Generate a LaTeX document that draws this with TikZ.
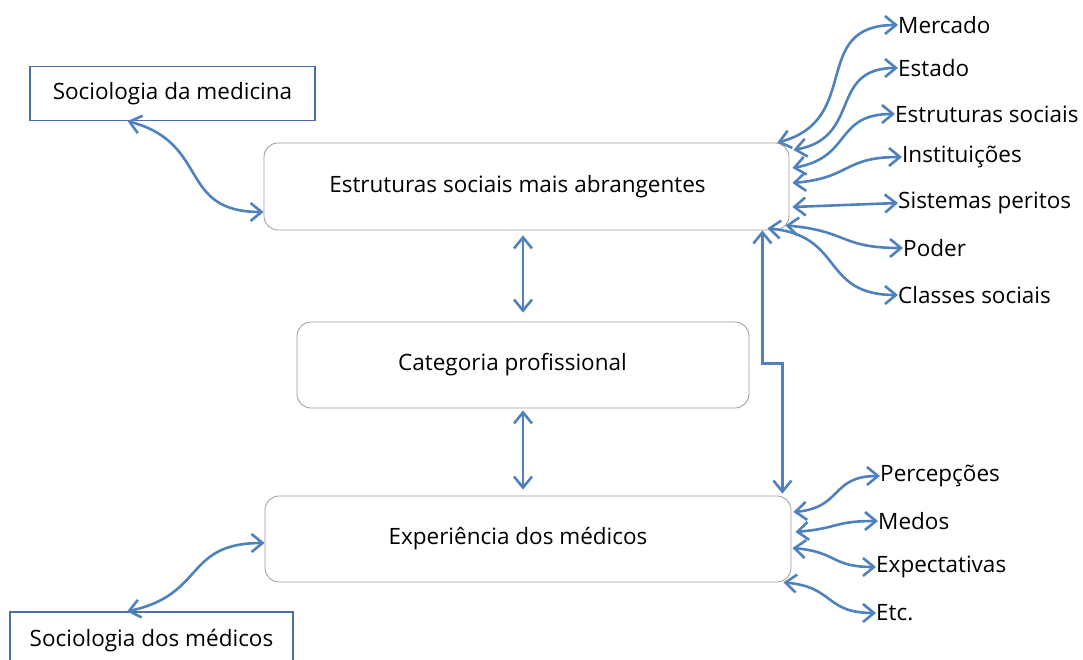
\documentclass[tikz,border=0pt]{standalone}
\usepackage{fontspec}
\setmainfont{Open Sans}
\usetikzlibrary{arrows.meta}
\definecolor{linkblue}{HTML}{4F81BD}
\definecolor{framegray}{HTML}{9A9A9A}
\definecolor{frameblue}{HTML}{4A6FA5}

\begin{document}
\begin{tikzpicture}[x=1pt,y=1pt,
	font=\fontsize{22.5}{26}\selectfont,
	level/.style={draw=framegray,line width=0.8pt,rounded corners=14pt,minimum height=86pt},
	field/.style={draw=frameblue,line width=1.2pt,minimum height=54pt},
	item/.style={anchor=west,inner sep=0pt},
	link/.style={linkblue,line width=2.6pt,{Straight Barb[length=11pt,width=18pt]}-{Straight Barb[length=11pt,width=18pt]}},
	sbend/.style={looseness=1.35}]
	\useasboundingbox (0,0) rectangle (1083,659);

	% boxes
	\node[field,minimum width=285pt] (smed) at (172.5,565.5) {Sociologia da medicina};
	\node[level,minimum width=525pt,minimum height=87pt] (esm) at (526.5,472.5) {Estruturas sociais mais abrangentes\hspace*{18pt}};
	\node[level,minimum width=452pt] (cat) at (523,294) {Categoria profissional\hspace*{21pt}};
	\node[level,minimum width=526pt] (exp) at (528,120) {Experiência dos médicos\hspace*{20pt}};
	\node[field,minimum width=283pt,minimum height=58pt] (sdm) at (151.5,18) {Sociologia dos médicos};

	% labels
	\node[item] (mer) at (898,634) {Mercado};
	\node[item] (est) at (898,591) {Estado};
	\node[item] (ess) at (895,545) {Estruturas sociais};
	\node[item] (ins) at (902,502) {Instituições};
	\node[item] (sis) at (898,456) {Sistemas peritos};
	\node[item] (pod) at (903,411) {Poder};
	\node[item] (cla) at (898,364) {Classes sociais};
	\node[item] (per) at (880,183) {Percepções};
	\node[item] (med) at (878,138) {Medos};
	\node[item] (exl) at (876,92) {Expectativas};
	\node[item] (etc) at (876,46) {Etc.};

	% left links
	\draw[link] ([xshift=-45pt]smed.south) to[out=-15,in=180,sbend] ([yshift=-25.5pt]esm.west);
	\draw[link] ([xshift=-24.5pt]sdm.north) to[out=12,in=180,sbend] ([yshift=-4pt]exp.west);

	% middle links
	\draw[link] ([yshift=-5pt]cat.north |- esm.south) -- ([yshift=9pt]cat.north);
	\draw[link] ([yshift=-2pt]cat.south) -- ([yshift=6pt]cat.south |- exp.north);
	\draw[link] ([xshift=-27pt]esm.south east) -- ++(0,-133) -| ([shift={(-9pt,2pt)}]exp.north east);

	% right links, top box
	\draw[link] ([xshift=-12pt]esm.north east) to[out=15,in=180,sbend] (mer.west);
	\draw[link] ([shift={(4pt,36.5pt)}]esm.east) to[out=10,in=180,sbend] (est.west);
	\draw[link] ([shift={(3pt,18.5pt)}]esm.east) to[out=10,in=180,sbend] (ess.west);
	\draw[link] ([shift={(3pt,3.5pt)}]esm.east) to[out=5,in=180,sbend] (ins.west);
	\draw[link] ([shift={(3pt,-20.5pt)}]esm.east) -- (sis.west);
	\draw[link] ([shift={(-4pt,5pt)}]esm.south east) to[out=-5,in=180,sbend] (pod.west);
	\draw[link] ([shift={(-22pt,2pt)}]esm.south east) to[out=-5,in=180,sbend] (cla.west);

	% right links, bottom box
	\draw[link] ([shift={(2pt,27pt)}]exp.east) to[out=5,in=180,sbend] (per.west);
	\draw[link] ([shift={(4pt,7pt)}]exp.east) to[out=5,in=180,sbend] (med.west);
	\draw[link] ([shift={(1pt,-9pt)}]exp.east) to[out=-5,in=180,sbend] (exl.west);
	\draw[link] ([xshift=-8pt]exp.south east) to[out=-5,in=180,sbend] (etc.west);
\end{tikzpicture}
\end{document}
